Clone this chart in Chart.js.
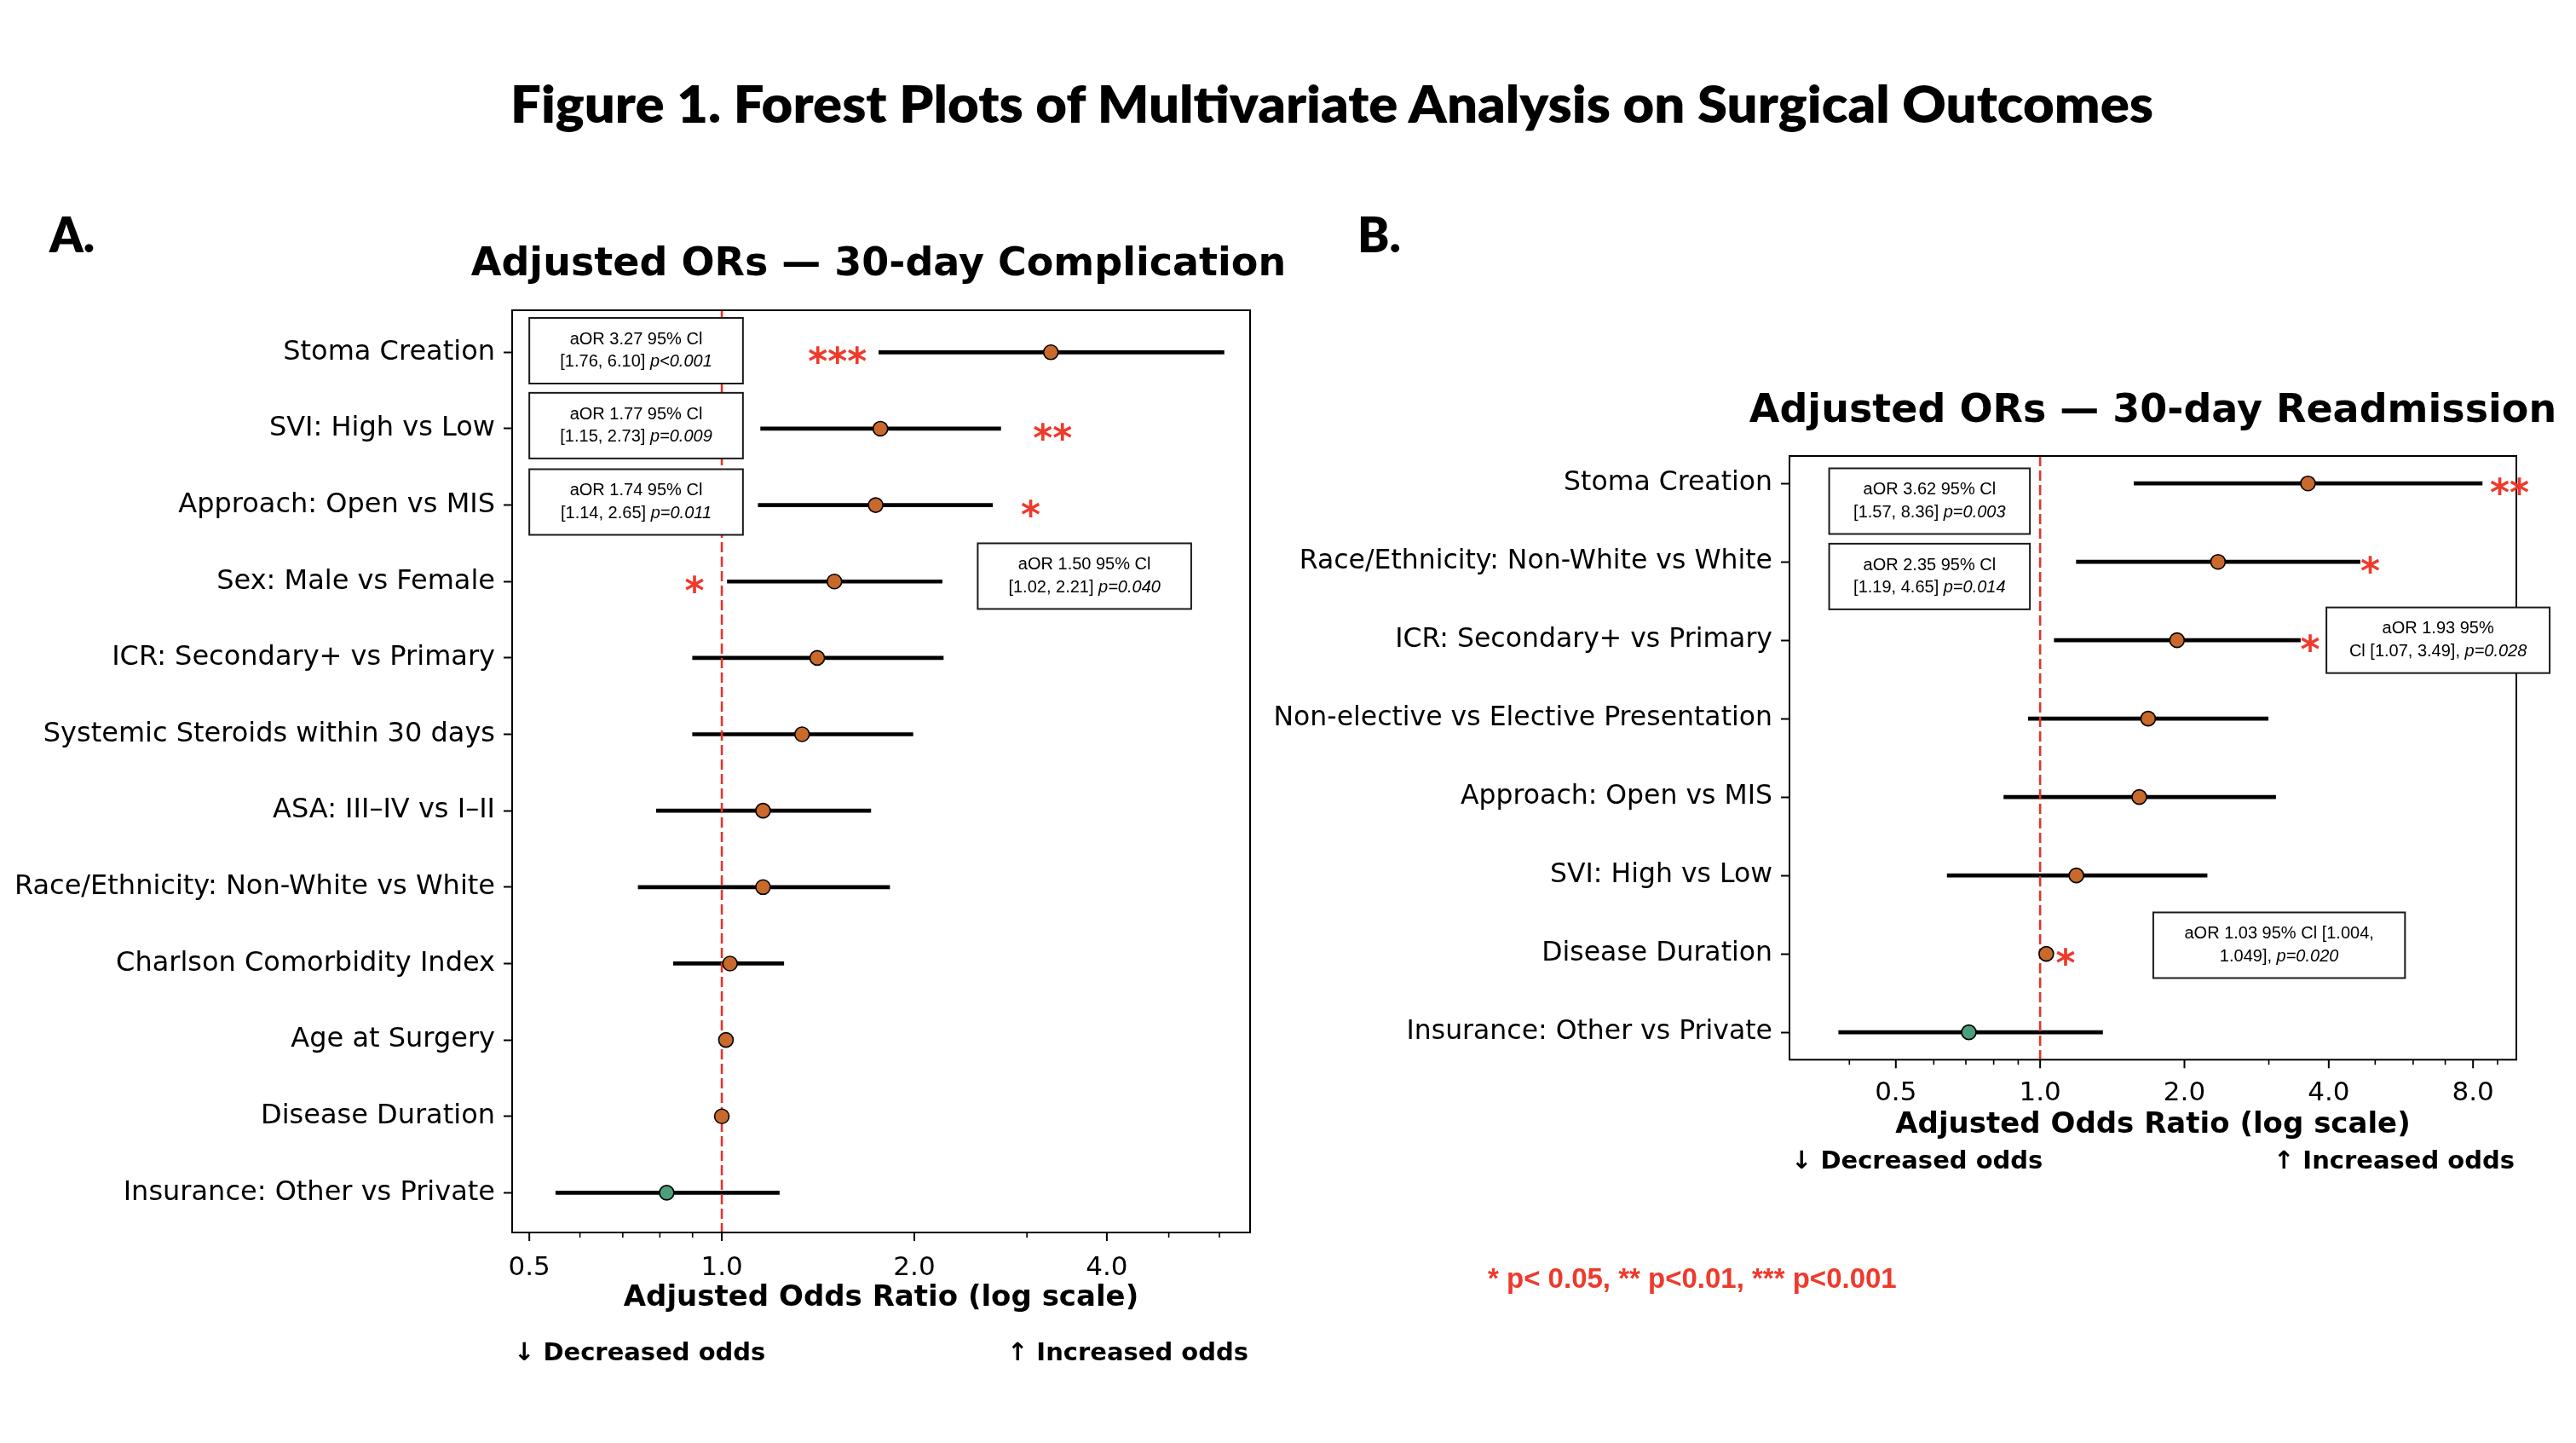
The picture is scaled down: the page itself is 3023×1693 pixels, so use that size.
<!DOCTYPE html>
<html>
<head>
<meta charset="utf-8">
<script src="https://cdn.jsdelivr.net/npm/chart.js@4.4.1/dist/chart.umd.min.js"></script>
<style>
  html, body { margin: 0; padding: 0; background: #fff; }
  body { width: 3023px; height: 1693px; position: relative; overflow: hidden; }
  canvas { position: absolute; }
  .t { position: absolute; white-space: nowrap; line-height: 1; z-index: 5; color: #000; }
</style>
</head>
<body>
<div id="mainTitle" class="t" style="left:599px;top:85px;font:800 60px Lato;transform-origin:0 0;">Figure 1. Forest Plots of Multivariate Analysis on Surgical Outcomes</div>
<div class="t" style="left:58px;top:241px;font:800 56px Lato;">A.</div>
<div class="t" style="left:1593px;top:241px;font:800 56px Lato;">B.</div>
<canvas id="cA" width="1560" height="1420" style="left:0px;top:240px;width:1560px;height:1420px;"></canvas>
<canvas id="cB" width="1583" height="1100" style="left:1440px;top:400px;width:1583px;height:1100px;"></canvas>
<div class="t" style="left:1746px;top:1481px;font:700 33px 'Liberation Sans';color:#EE3A2C;">* p&lt; 0.05, ** p&lt;0.01, *** p&lt;0.001</div>
<script>
// ---------------- DATA ----------------
const categoriesA = ['Stoma Creation', 'SVI: High vs Low', 'Approach: Open vs MIS', 'Sex: Male vs Female',
  'ICR: Secondary+ vs Primary', 'Systemic Steroids within 30 days', 'ASA: III–IV vs I–II',
  'Race/Ethnicity: Non-White vs White', 'Charlson Comorbidity Index', 'Age at Surgery',
  'Disease Duration', 'Insurance: Other vs Private'];
const orA   = [3.27, 1.77, 1.74, 1.50, 1.41, 1.335, 1.16, 1.16, 1.03, 1.015, 1.00, 0.82];
const lowA  = [1.76, 1.15, 1.14, 1.02, 0.90, 0.90, 0.79, 0.74, 0.84, 1.00, 0.99, 0.55];
const highA = [6.10, 2.73, 2.65, 2.21, 2.22, 1.99, 1.71, 1.83, 1.25, 1.03, 1.01, 1.23];

const categoriesB = ['Stoma Creation', 'Race/Ethnicity: Non-White vs White', 'ICR: Secondary+ vs Primary',
  'Non-elective vs Elective Presentation', 'Approach: Open vs MIS', 'SVI: High vs Low',
  'Disease Duration', 'Insurance: Other vs Private'];
const orB   = [3.62, 2.35, 1.93, 1.68, 1.61, 1.19, 1.03, 0.71];
const lowB  = [1.57, 1.19, 1.07, 0.945, 0.84, 0.64, 1.004, 0.38];
const highB = [8.36, 4.65, 3.49, 2.99, 3.10, 2.23, 1.049, 1.35];

const majorTicksA = [0.5, 1, 2, 4];
const minorTicksA = [0.6, 0.7, 0.8, 0.9, 3, 5, 6];
const majorTicksB = [0.5, 1, 2, 4, 8];
const minorTicksB = [0.4, 0.6, 0.7, 0.8, 0.9, 3, 5, 6, 7, 9];

const titleA = 'Adjusted ORs — 30-day Complication';
const titleB = 'Adjusted ORs — 30-day Readmission';
const xTitle = 'Adjusted Odds Ratio (log scale)';
const decText = '↓ Decreased odds';
const incText = '↑ Increased odds';

// significance marks (row index, position on OR axis)
const starsA = [
  { row: 0, x: 1.516, text: '***' },
  { row: 1, x: 3.29, text: '**' },
  { row: 2, x: 3.04, text: '*' },
  { row: 3, x: 0.906, text: '*' }
];
const starsB = [
  { row: 0, x: 9.53, text: '**' },
  { row: 1, x: 4.88, text: '*' },
  { row: 2, x: 3.66, text: '*' },
  { row: 6, x: 1.13, text: '*' }
];

// annotation boxes: lines are lists of [text, italic]
const boxesA = [
  { row: 0, dy: -0.02, x0: 0.5, x1: 1.079, lines: [[['aOR 3.27 95% Cl', false]], [['[1.76, 6.10] ', false], ['p<0.001', true]]] },
  { row: 1, dy: -0.04, x0: 0.5, x1: 1.079, lines: [[['aOR 1.77 95% Cl', false]], [['[1.15, 2.73] ', false], ['p=0.009', true]]] },
  { row: 2, dy: -0.04, x0: 0.5, x1: 1.079, lines: [[['aOR 1.74 95% Cl', false]], [['[1.14, 2.65] ', false], ['p=0.011', true]]] },
  { row: 3, dy: -0.07, x0: 2.513, x1: 5.42, lines: [[['aOR 1.50 95% Cl', false]], [['[1.02, 2.21] ', false], ['p=0.040', true]]] }
];
const boxesB = [
  { row: 0, dy: 0.226, x0: 0.363, x1: 0.952, lines: [[['aOR 3.62 95% Cl', false]], [['[1.57, 8.36] ', false], ['p=0.003', true]]] },
  { row: 1, dy: 0.187, x0: 0.363, x1: 0.952, lines: [[['aOR 2.35 95% Cl', false]], [['[1.19, 4.65] ', false], ['p=0.014', true]]] },
  { row: 2, dy: 0.0, x0: 3.956, x1: 11.56, lines: [[['aOR 1.93 95%', false]], [['Cl [1.07, 3.49], ', false], ['p=0.028', true]]] },
  { row: 6, dy: -0.11, x0: 1.722, x1: 5.77, lines: [[['aOR 1.03 95% Cl [1.004,', false]], [['1.049], ', false], ['p=0.020', true]]] }
];

// ---------------- STYLE ----------------
const ORANGE = '#C9692B';
const GREEN = '#4C9F7A';
const RED_LINE = '#E2352B';
const RED_STAR = '#EE3A2C';
const BOX_H = 77;
const BOX_LINE_GAP = 26.5;
const BOX_FONT = '20px "Liberation Sans", Arial, sans-serif';
const BOX_FONT_I = 'italic 20px "Liberation Sans", Arial, sans-serif';
const TITLE_FONT = 'bold 46px "DejaVu Sans"';

function forestPlugin(cfg) {
  return {
    id: 'forest' + cfg.key,
    afterDatasetDraw(chart, args) {
      if (args.index !== 0) return;
      const { ctx, chartArea: a } = chart;
      const px = chart.scales.x.getPixelForValue(1);
      ctx.save();
      ctx.strokeStyle = RED_LINE;
      ctx.lineWidth = 2.6;
      ctx.setLineDash([12, 5]);
      ctx.beginPath();
      ctx.moveTo(px, a.top);
      ctx.lineTo(px, a.bottom);
      ctx.stroke();
      ctx.restore();
    },
    afterDatasetsDraw(chart) {
      const { ctx, chartArea: a } = chart;
      const xs = chart.scales.x;
      ctx.save();
      ctx.strokeStyle = '#000';
      ctx.lineWidth = 2;
      ctx.strokeRect(a.left, a.top, a.right - a.left, a.bottom - a.top);
      ctx.lineWidth = 2;
      cfg.major.forEach(v => {
        const p = xs.getPixelForValue(v);
        ctx.beginPath(); ctx.moveTo(p, a.bottom); ctx.lineTo(p, a.bottom + 10); ctx.stroke();
      });
      ctx.lineWidth = 1.6;
      cfg.minor.forEach(v => {
        const p = xs.getPixelForValue(v);
        ctx.beginPath(); ctx.moveTo(p, a.bottom); ctx.lineTo(p, a.bottom + 6); ctx.stroke();
      });
      ctx.restore();
    },
    afterDraw(chart) {
      const { ctx, chartArea: a } = chart;
      const xs = chart.scales.x, ys = chart.scales.y;
      ctx.save();
      // panel title
      ctx.fillStyle = '#000';
      ctx.font = TITLE_FONT;
      ctx.textAlign = 'center';
      ctx.textBaseline = 'alphabetic';
      ctx.fillText(cfg.title, (a.left + a.right) / 2 + cfg.titleDx, a.top - cfg.titleGap);
      // boxes
      cfg.boxes.forEach(b => {
        const yc = ys.getPixelForValue(b.row + b.dy);
        const xl = xs.getPixelForValue(b.x0), xr = xs.getPixelForValue(b.x1);
        ctx.fillStyle = '#fff';
        ctx.fillRect(xl, yc - BOX_H / 2, xr - xl, BOX_H);
        ctx.strokeStyle = '#1a1a1a';
        ctx.lineWidth = 2;
        ctx.strokeRect(xl, yc - BOX_H / 2, xr - xl, BOX_H);
        ctx.fillStyle = '#000';
        ctx.textBaseline = 'middle';
        ctx.textAlign = 'left';
        const n = b.lines.length;
        b.lines.forEach((segs, li) => {
          const ly = yc + (li - (n - 1) / 2) * BOX_LINE_GAP;
          let total = 0;
          segs.forEach(s => { ctx.font = s[1] ? BOX_FONT_I : BOX_FONT; total += ctx.measureText(s[0]).width; });
          let x = (xl + xr) / 2 - total / 2;
          segs.forEach(s => {
            ctx.font = s[1] ? BOX_FONT_I : BOX_FONT;
            ctx.fillText(s[0], x, ly);
            x += ctx.measureText(s[0]).width;
          });
        });
      });
      // stars
      ctx.fillStyle = RED_STAR;
      ctx.font = 'bold 44px "DejaVu Sans"';
      ctx.textAlign = 'center';
      ctx.textBaseline = 'alphabetic';
      cfg.stars.forEach(s => {
        const y = ys.getPixelForValue(s.row);
        ctx.fillText(s.text, xs.getPixelForValue(s.x), y + 26);
      });
      // direction labels
      ctx.fillStyle = '#000';
      ctx.font = 'bold 29px "DejaVu Sans"';
      ctx.textBaseline = 'middle';
      ctx.textAlign = 'left';
      ctx.fillText(decText, a.left + 2, a.bottom + cfg.decOffset);
      ctx.textAlign = 'right';
      ctx.fillText(incText, a.right - 2, a.bottom + cfg.decOffset);
      ctx.restore();
    }
  };
}

function makeChart(canvasId, cfg) {
  const cats = cfg.cats;
  return new Chart(document.getElementById(canvasId), {
    type: 'bar',
    data: {
      datasets: [
        {
          type: 'bar',
          indexAxis: 'y',
          data: cfg.low.map((l, i) => ({ x: [l, cfg.high[i]], y: i })),
          backgroundColor: '#000',
          borderWidth: 0,
          barThickness: 4,
          order: 1
        },
        {
          type: 'scatter',
          data: cfg.or.map((v, i) => ({ x: v, y: i })),
          pointRadius: 8.5,
          pointBorderWidth: 1.6,
          pointBorderColor: '#000',
          pointBackgroundColor: cfg.or.map(v => v < 1 ? GREEN : ORANGE),
          showLine: false,
          order: 0
        }
      ]
    },
    options: {
      responsive: false,
      animation: false,
      devicePixelRatio: 1,
      layout: { padding: { left: 0, right: cfg.padRight, top: cfg.padTop, bottom: 0 } },
      plugins: {
        legend: { display: false },
        tooltip: { enabled: false },
        title: { display: false }
      },
      scales: {
        x: {
          type: 'logarithmic',
          position: 'bottom',
          min: cfg.xmin,
          max: cfg.xmax,
          offset: false,
          afterBuildTicks: (s) => {
            s.ticks = cfg.major.concat(cfg.minor).sort((a, b) => a - b).map(v => ({ value: v }));
          },
          afterFit: (s) => { s.height = cfg.xHeight; },
          grid: { display: false },
          border: { display: false },
          ticks: {
            autoSkip: false, maxRotation: 0, minRotation: 0,
            padding: cfg.xTickPad,
            color: '#000',
            font: { family: 'DejaVu Sans', size: 31 },
            callback: (v) => cfg.major.includes(v) ? v.toFixed(1) : ''
          },
          title: {
            display: true,
            text: xTitle,
            color: '#000',
            font: { family: 'DejaVu Sans', size: 34, weight: 'bold' },
            padding: { top: 0, bottom: cfg.xTitlePad }
          }
        },
        y: {
          type: 'linear',
          position: 'left',
          reverse: true,
          offset: false,
          min: cfg.ymin,
          max: cfg.ymax,
          afterBuildTicks: (s) => { s.ticks = cats.map((c, i) => ({ value: i })); },
          afterFit: (s) => { s.width = cfg.yWidth; },
          grid: { display: true, offset: false, drawOnChartArea: false, drawTicks: true, tickLength: 10, tickWidth: 2, tickColor: '#000' },
          border: { display: false },
          ticks: {
            autoSkip: false,
            padding: 10,
            color: '#000',
            font: { family: 'DejaVu Sans', size: cfg.yFont },
            callback: (v) => cats[v]
          }
        }
      }
    },
    plugins: [forestPlugin(cfg)]
  });
}

makeChart('cA', {
  key: 'A', cats: categoriesA, or: orA, low: lowA, high: highA,
  major: majorTicksA, minor: minorTicksA, stars: starsA, boxes: boxesA,
  title: titleA, titleDx: -3, titleGap: 40.7,
  xmin: 0.47, xmax: 6.7, ymin: -0.55, ymax: 11.52,
  padRight: 93, padTop: 124, yFont: 32,
  yWidth: 601, xHeight: 214, xTickPad: 15, xTitlePad: 116, decOffset: 142
});
makeChart('cB', {
  key: 'B', cats: categoriesB, or: orB, low: lowB, high: highB,
  major: majorTicksB, minor: minorTicksB, stars: starsB, boxes: boxesB,
  title: titleB, titleDx: 0, titleGap: 40,
  xmin: 0.33, xmax: 9.85, ymin: -0.35, ymax: 7.35,
  padRight: 70, padTop: 135, yFont: 31.5,
  yWidth: 660, xHeight: 256.7, xTickPad: 13, xTitlePad: 159.6, decOffset: 120
});

// fit main title to the measured width in the reference
(function () {
  const el = document.getElementById('mainTitle');
  const w = el.getBoundingClientRect().width;
  if (w > 0) el.style.transform = 'scaleX(' + (1928 / w) + ')';
})();
</script>
</body>
</html>
